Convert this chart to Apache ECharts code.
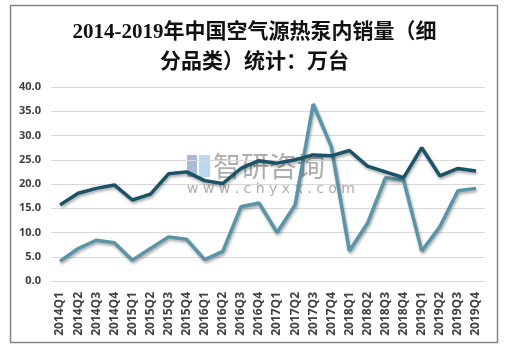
<!DOCTYPE html>
<html>
<head>
<meta charset="utf-8">
<script src="https://cdn.jsdelivr.net/npm/echarts@6/dist/echarts.min.js"></script>
<style>
  html, body { margin: 0; padding: 0; background: #fff; }
  #main { width: 509px; height: 354px; }
</style>
</head>
<body>
<div id="main"></div>
<script>
// 季度
var quarters = ['2014Q1','2014Q2','2014Q3','2014Q4','2015Q1','2015Q2','2015Q3','2015Q4',
  '2016Q1','2016Q2','2016Q3','2016Q4','2017Q1','2017Q2','2017Q3','2017Q4',
  '2018Q1','2018Q2','2018Q3','2018Q4','2019Q1','2019Q2','2019Q3','2019Q4'];
// 深色线
var seriesA = [15.7, 18.1, 19.1, 19.8, 16.7, 17.9, 22.1, 22.5,
  20.7, 20.1, 23.2, 24.8, 24.3, 25.0, 26.0, 25.8,
  26.9, 23.7, 22.5, 21.3, 27.5, 21.7, 23.2, 22.7];
// 浅色线
var seriesB = [4.1, 6.7, 8.4, 7.9, 4.3, 6.7, 9.1, 8.6,
  4.4, 6.1, 15.3, 16.1, 10.0, 15.7, 36.5, 27.7,
  6.2, 11.9, 21.3, 20.8, 6.2, 11.2, 18.6, 19.1];

var chart = echarts.init(document.getElementById('main'));

var lineShadow = {
  shadowColor: 'rgba(0,0,0,0.35)',
  shadowBlur: 3,
  shadowOffsetX: 1,
  shadowOffsetY: 2
};

chart.setOption({
  backgroundColor: '#fff',
  animation: false,
  title: {
    text: '2014-2019年中国空气源热泵内销量（细\n分品类）统计：万台',
    left: 'center',
    top: 13,
    textStyle: {
      fontFamily: '"Liberation Serif", "Noto Sans CJK SC", serif',
      fontSize: 21,
      fontWeight: 'bold',
      color: '#111',
      lineHeight: 30
    }
  },
  grid: { left: 51, right: 24, top: 87, bottom: 73 },
  xAxis: {
    type: 'category',
    data: quarters,
    boundaryGap: true,
    axisLine: { lineStyle: { color: '#d9d9d9' } },
    axisTick: { show: false },
    axisLabel: {
      rotate: 90,
      interval: 0,
      margin: 11,
      fontSize: 12,
      fontWeight: 'bold',
      color: '#404040',
      fontFamily: '"Open Sans", "DejaVu Sans", sans-serif'
    }
  },
  yAxis: {
    type: 'value',
    min: 0,
    max: 40,
    interval: 5,
    axisLine: { show: false },
    axisTick: { show: false },
    splitLine: { lineStyle: { color: '#d9d9d9', width: 1 } },
    axisLabel: {
      margin: 10,
      fontSize: 11,
      fontWeight: 'bold',
      color: '#404040',
      fontFamily: '"Open Sans", "DejaVu Sans", sans-serif',
      formatter: function (v) { return v.toFixed(1); }
    }
  },
  series: [
    {
      name: 'A',
      type: 'line',
      data: seriesA,
      symbol: 'none',
      z: 3,
      lineStyle: Object.assign({ color: '#1a5366', width: 3.5 }, lineShadow)
    },
    {
      name: 'B',
      type: 'line',
      data: seriesB,
      symbol: 'none',
      z: 2,
      lineStyle: Object.assign({ color: '#5b93a7', width: 3.5 }, lineShadow)
    }
  ],
  graphic: [
    {
      type: 'rect',
      shape: { x: 10.5, y: 5.5, width: 487, height: 337 },
      style: { fill: 'none', stroke: '#858585', lineWidth: 1.5 },
      silent: true
    },
    {
      type: 'group',
      left: 187,
      top: 152,
      silent: true,
      z: 10,
      children: [
        { type: 'rect', shape: { x: 0, y: 3, width: 10, height: 22 }, style: { fill: 'rgba(100,130,185,0.55)' } },
        { type: 'rect', shape: { x: 12, y: 3, width: 11, height: 22 }, style: { fill: 'rgba(130,185,230,0.55)' } },
        {
          type: 'text',
          style: {
            x: 26, y: 0,
            text: '智研咨询',
            fontSize: 28,
            fontFamily: '"Noto Sans CJK SC", sans-serif',
            fill: 'rgba(105,105,105,0.55)'
          }
        },
        {
          type: 'text',
          style: {
            x: 0, y: 30,
            text: 'w w w . c h y x x . c o m',
            fontSize: 14,
            fontFamily: '"DejaVu Sans", sans-serif',
            fill: 'rgba(105,105,105,0.55)'
          }
        }
      ]
    }
  ]
});
</script>
</body>
</html>
